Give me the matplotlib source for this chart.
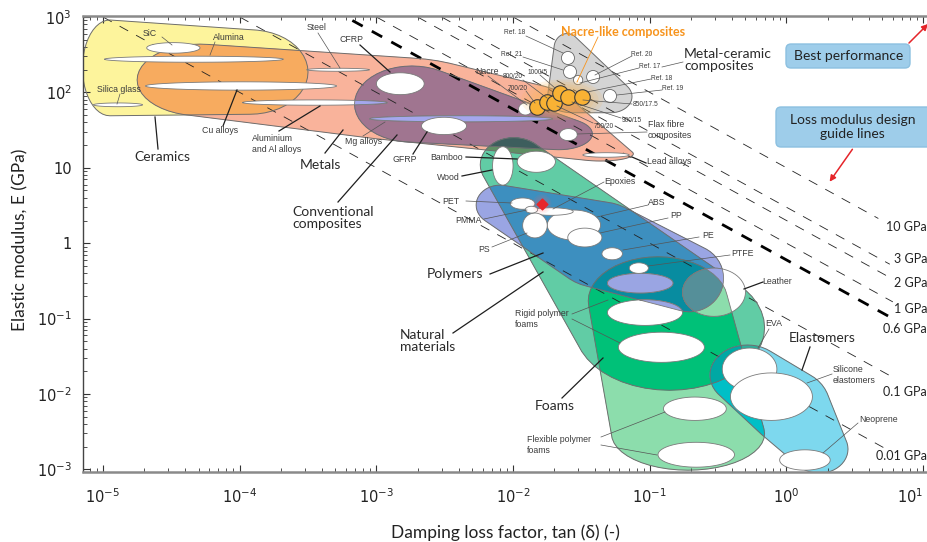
import numpy as np
import matplotlib.pyplot as plt
from matplotlib.patches import Polygon, FancyBboxPatch, FancyArrowPatch
from matplotlib.lines import Line2D
from matplotlib.transforms import IdentityTransform

plt.rcParams['mathtext.fontset'] = 'custom'
plt.rcParams['mathtext.rm'] = 'Lato'
plt.rcParams['lines.scale_dashes'] = False

# property ranges, log10 of (tan d low, tan d high, E low, E high), E in GPa
ceramics_env = [(-5.15, -4.75, 1.69, 2.96), (-4.35, -3.50, 1.71, 2.83)]
metals_env = [(-4.75, -3.83, 1.69, 2.64), (-3.56, -2.10, 1.37, 2.46),
              (-2.54, -1.51, 1.24, 2.14), (-1.60, -1.12, 1.09, 1.28)]
composites_env = [(-3.16, -2.32, 1.34, 2.35), (-1.91, -1.42, 1.24, 1.66)]
metal_ceramic_env = [(-1.70, -1.51, 2.40, 2.78), (-1.44, -1.13, 1.73, 2.16),
                     (-1.75, -1.38, 1.73, 2.10)]
natural_env = [(-2.24, -1.75, 0.68, 1.40), (-1.55, -0.16, -1.95, -0.29)]
foams_env = [(-1.45, -0.43, -1.35, -0.18), (-1.28, -0.16, -3.01, -2.04)]
polymers_env = [(-2.27, -1.92, 0.24, 0.77), (-1.73, -1.00, -0.59, 0.55),
                (-0.96, -0.46, -0.91, -0.02)]
elastomers_env = [(-0.56, -0.01, -2.15, -1.35), (-0.27, 0.32, -2.68, -1.68),
                  (0.03, 0.45, -3.05, -2.41)]

ceramics = {'SiC': (-4.68, -4.29, 2.52, 2.66), 'Alumina': (-4.99, -3.68, 2.40, 2.48),
            'Silica glass': (-5.07, -4.71, 1.81, 1.86)}
metals = {'Cu alloys': (-4.69, -3.29, 2.03, 2.14), 'Steel': (-3.51, -3.05, 2.28, 2.32),
          'Aluminium': (-3.98, -2.92, 1.83, 1.90), 'Mg alloys': (-3.05, -1.71, 1.61, 1.69),
          'Lead alloys': (-1.49, -1.15, 1.14, 1.20)}
composites = {'CFRP': (-3.00, -2.65, 1.97, 2.26), 'GFRP': (-2.67, -2.34, 1.44, 1.67),
              'Flax fibre': (-1.66, -1.53, 1.36, 1.52), 'Nacre': (-1.96, -1.86, 1.70, 1.86)}
natural = {'Bamboo': (-1.97, -1.69, 0.94, 1.22), 'Wood': (-2.15, -2.00, 0.77, 1.28),
           'Leather': (-0.76, -0.30, -0.97, -0.33)}
foams = {'Rigid 1': (-1.31, -0.83, -0.66, -0.40), 'Rigid 2': (-1.31, -0.76, -1.09, -0.75),
         'Rigid 3': (-1.23, -0.60, -1.58, -1.18), 'Flexible 1': (-0.90, -0.44, -2.35, -2.04),
         'Flexible 2': (-0.94, -0.38, -2.97, -2.64)}
polymers = {'ABS': (-1.75, -1.36, 0.04, 0.44), 'PET': (-2.02, -1.84, 0.45, 0.60),
            'Epoxies': (-1.88, -1.56, 0.37, 0.47), 'PS': (-1.93, -1.75, 0.07, 0.40),
            'PMMA': (-1.91, -1.82, 0.40, 0.49), 'PP': (-1.60, -1.35, -0.05, 0.20),
            'PE': (-1.35, -1.20, -0.22, -0.06), 'PTFE': (-1.15, -1.01, -0.40, -0.26)}
elastomers = {'EVA': (-0.47, -0.07, -1.95, -1.39), 'Silicone': (-0.41, 0.19, -2.35, -1.72),
              'Neoprene': (-0.05, 0.32, -3.01, -2.74)}

# single points (tan d, E in GPa)
ref_tan = [0.0252, 0.0261, 0.0385, 0.0299, 0.0512]
ref_E = [286, 187, 160, 146, 89.6]
nacre_tan = [0.0150, 0.0177, 0.0199, 0.0220, 0.0252, 0.0319]
nacre_E = [64, 74.6, 72.3, 98, 87, 87]
this_tan, this_E = 0.01625, 3.31

# loss modulus guide lines, E'' = E tan d (GPa)
guide_GPa = [10, 3, 2, 1, 0.6, 0.1, 0.01]
guide_end = [4.7, 5.7, 5.9, 6.0, 5.7, 6.3, 5.3]
guide_label_E = [1.64, 0.616, 0.296, 0.134, 0.0728, 0.0106, 0.00151]

colors = {'ceramics': (253, 244, 156), 'metals': (249, 179, 155), 'composites': (164, 167, 237),
          'metal_ceramic': (212, 212, 212), 'natural': (97, 204, 165), 'foams': (140, 221, 172),
          'polymers': (154, 165, 227), 'elastomers': (125, 216, 238)}
overlap = {frozenset(['natural', 'foams']): (0, 193, 120),
           frozenset(['natural', 'polymers']): (61, 143, 191),
           frozenset(['natural', 'polymers', 'foams']): (8, 140, 160),
           frozenset(['elastomers', 'foams']): (0, 191, 198),
           frozenset(['elastomers', 'natural', 'foams']): (0, 168, 164)}


def ellipse(r, n=60):
    x0, x1, y0, y1 = r
    t = np.linspace(0, 2 * np.pi, n, endpoint=False)
    return np.column_stack([(x0 + x1) / 2 + (x1 - x0) / 2 * np.cos(t),
                            (y0 + y1) / 2 + (y1 - y0) / 2 * np.sin(t)])


def hull(pts):
    pts = sorted(map(tuple, pts))

    def cross(o, a, b):
        return (a[0] - o[0]) * (b[1] - o[1]) - (a[1] - o[1]) * (b[0] - o[0])
    lower, upper = [], []
    for p in pts:
        while len(lower) >= 2 and cross(lower[-2], lower[-1], p) <= 0:
            lower.pop()
        lower.append(p)
    for p in reversed(pts):
        while len(upper) >= 2 and cross(upper[-2], upper[-1], p) <= 0:
            upper.pop()
        upper.append(p)
    return np.array(lower[:-1] + upper[:-1])


def clip(subj, clipper):
    # convex polygon intersection (Sutherland-Hodgman), clipper is CCW
    out = [tuple(p) for p in subj]
    m = len(clipper)
    for i in range(m):
        if not out:
            break
        a, b = clipper[i], clipper[(i + 1) % m]
        ex, ey = b[0] - a[0], b[1] - a[1]
        inp, out = out, []
        s = inp[-1]
        s_in = ex * (s[1] - a[1]) - ey * (s[0] - a[0]) >= 0
        for e in inp:
            e_in = ex * (e[1] - a[1]) - ey * (e[0] - a[0]) >= 0
            if e_in != s_in:
                dx, dy = e[0] - s[0], e[1] - s[1]
                den = dx * ey - dy * ex
                t = ((a[0] - s[0]) * ey - (a[1] - s[1]) * ex) / den
                out.append((s[0] + t * dx, s[1] + t * dy))
            if e_in:
                out.append(e)
            s, s_in = e, e_in
    return np.array(out)


def bbox(p):
    return p[:, 0].min(), p[:, 0].max(), p[:, 1].min(), p[:, 1].max()


regions = []   # [polygon in log units, rgb, family tags, is_bubble]
outlines = []


def add_family(name, env):
    poly = hull(np.vstack([ellipse(r, 48) for r in env]))
    outlines.append(poly)
    rgb = colors[name]
    new = [[poly, rgb, {name}, False]]
    bx = bbox(poly)
    for p, c, tags, bub in regions:
        b = bbox(p)
        if b[1] < bx[0] or b[0] > bx[1] or b[3] < bx[2] or b[2] > bx[3]:
            continue
        q = clip(p, poly)
        if len(q) < 3:
            continue
        t = tags | {name}
        col = overlap.get(frozenset(t), tuple(u * v / 255 for u, v in zip(c, rgb)))
        new.append([q, col, t, bub])
    regions.extend(new)


def add_bubbles(bubbles):
    for r in bubbles.values():
        regions.append([ellipse(r), (255, 255, 255), set(), True])


add_family('ceramics', ceramics_env)
add_family('metals', metals_env)
add_bubbles(ceramics)
add_bubbles(metals)
add_family('composites', composites_env)
add_bubbles(composites)
add_family('metal_ceramic', metal_ceramic_env)
add_family('natural', natural_env)
add_bubbles(natural)
add_family('foams', foams_env)
add_bubbles(foams)
add_family('polymers', polymers_env)
add_bubbles(polymers)
add_family('elastomers', elastomers_env)
add_bubbles(elastomers)

W, H = 927, 542
fig = plt.figure(figsize=(W / 100, H / 100), dpi=100)
ax = fig.add_axes([83 / W, 70 / H, 844 / W, 456 / H])
ax.set_xscale('log')
ax.set_yscale('log')
ax.set_xlim(10 ** -5.146, 10 ** 1.028)
ax.set_ylim(10 ** -3.034, 10 ** 3.013)

for i, (p, c, tags, bub) in enumerate(regions):
    col = tuple(v / 255 for v in c)
    if bub:
        ax.add_patch(Polygon(10 ** p, closed=True, fc=col, ec='#7a7a7a', lw=0.6,
                             zorder=3 + i * 1e-5))
    else:
        ax.add_patch(Polygon(10 ** p, closed=True, fc=col, ec=col, lw=0.3,
                             zorder=1 + i * 1e-5))
for p in outlines:
    ax.add_patch(Polygon(10 ** p, closed=True, fill=False, ec='#6e6e6e', lw=0.7, zorder=2))

# design guide lines
for c, xe in zip(guide_GPa, guide_end):
    x = np.logspace(-6, np.log10(xe), 80)
    if c == 0.6:
        ax.plot(x, c / x, color='black', lw=2.0, dashes=(8.5, 7.5), zorder=1.6)
    else:
        ax.plot(x, c / x, color='#222222', lw=0.6, dashes=(7, 6.5), zorder=1.6)
for c, ye in zip(guide_GPa, guide_label_E):
    ax.text(1.0, ye, '%g GPa' % c, transform=ax.get_yaxis_transform(), ha='right', va='center',
            fontsize=9, family='Lato', color='#222222', zorder=8)

# metal-ceramic references, nacre-like composites and this work
ax.scatter(ref_tan, ref_E, s=[88, 88, 88, 45, 88], fc='white', ec='#666666', lw=0.6, zorder=4)
gx, gy = np.mean(np.log10(nacre_tan)) + 0.03, np.mean(np.log10(nacre_E))
for k in range(8):
    s = 1 - 0.11 * k
    e = ellipse((gx - 0.30 * s, gx + 0.30 * s, gy - 0.27 * s, gy + 0.27 * s))
    ax.add_patch(Polygon(10 ** e, closed=True, fc='#FBB347', ec='none', alpha=0.13, zorder=4.5))
ax.scatter(nacre_tan, nacre_E, s=125, fc='#F9B234', ec='#3a3a3a', lw=0.8, zorder=5)
lx, ly = np.log10(this_tan), np.log10(this_E)
for k in range(5):
    s = 1 - 0.18 * k
    e = ellipse((lx - 0.07 * s, lx + 0.07 * s, ly - 0.13 * s, ly + 0.13 * s))
    ax.add_patch(Polygon(10 ** e, closed=True, fc='#FF6060', ec='none', alpha=0.08, zorder=5.5))
ax.scatter([this_tan], [this_E], marker='D', s=30, c='#E8262B', zorder=6)

# axes styling
for s in ['top', 'bottom']:
    ax.spines[s].set_color('#8a8a8a')
    ax.spines[s].set_linewidth(1.8)
ax.spines['left'].set_color('#444444')
ax.spines['left'].set_linewidth(1.0)
ax.spines['right'].set_visible(False)
ax.tick_params(which='both', direction='in', top=True, right=False, color='#333333')
ax.tick_params(which='major', length=5, width=0.8)
ax.tick_params(which='minor', length=3, width=0.6)
ax.tick_params(axis='x', pad=11, labelsize=10.5, labelcolor='#222222')
ax.tick_params(axis='y', pad=8, labelsize=10.5, labelcolor='#222222')
xt = [10.0 ** k for k in range(-5, 2)]
ax.set_xticks(xt)
ax.set_xticklabels([r'$\mathregular{10^{%d}}$' % k for k in range(-5, 2)])
ax.get_xticklabels()[-1].set_ha('right')
yt = [10.0 ** k for k in range(-3, 4)]
ax.set_yticks(yt)
ax.set_yticklabels([r'$\mathregular{10^{%d}}$' % k if k not in (0, 1) else '%d' % 10 ** k
                    for k in range(-3, 4)])
ax.set_xlabel('Damping loss factor, tan (δ) (-)', fontsize=12.5, family=['Lato', 'DejaVu Sans'],
              color='#222222')
ax.set_ylabel('Elastic modulus, E (GPa)', fontsize=12.5, family=['Lato', 'DejaVu Sans'],
              color='#222222')
ax.xaxis.set_label_coords(0.5, -0.134)
ax.xaxis.label.set_va('center')
ax.yaxis.set_label_coords(-0.0746, 0.51)
ax.yaxis.label.set_va('center')


def fx(x, y):
    return x / W, 1 - y / H


# labels: text, position (px), align, style, leader lines (px), leader colour
DARK, GREY = '#1e1e1e', '#555555'
labels = [
    ('SiC', (150, 34), 'center', 's', [((162, 37), (172, 45))], GREY),
    ('Alumina', (229, 37), 'center', 's', [((215, 42), (210, 55))], GREY),
    ('Silica glass', (119, 89), 'center', 's', [((120, 94), (117, 104))], GREY),
    ('Cu alloys', (220, 131), 'center', 's', [((223, 126), (237, 90))], DARK),
    ('Steel', (317, 28), 'center', 's', [((318, 33), (340, 68))], GREY),
    ('CFRP', (351, 39), 'center', 's', [((360, 45), (390, 72))], DARK),
    ('Aluminium\nand Al alloys', (252, 144), 'left', 's', [((279, 131), (320, 106))], DARK),
    ('Mg alloys', (364, 142), 'center', 's', [((363, 136), (385, 122))], GREY),
    ('GFRP', (405, 160), 'center', 's', [((413, 154), (427, 132))], DARK),
    ('Nacre', (487, 72), 'center', 's', [((488, 76), (527, 105))], GREY),
    ('Ref. 18', (515, 33), 'center', 'r', [((526, 36), (563, 53))], GREY),
    ('Ref. 21', (512, 55), 'center', 'r', [((523, 57), (563, 70))], GREY),
    ('1000/5', (538, 72), 'center', 'r', [((540, 75), (555, 88))], GREY),
    ('800/20', (513, 77), 'center', 'r', [((523, 80), (547, 98))], GREY),
    ('700/20', (518, 88), 'center', 'r', [((526, 91), (535, 103))], GREY),
    ('Ref. 20', (642, 54), 'center', 'r', [((632, 56), (595, 75))], GREY),
    ('Ref. 17', (650, 66), 'center', 'r', [((639, 68), (580, 83))], GREY),
    ('Ref. 18', (662, 78), 'center', 'r', [((651, 79), (587, 92))], GREY),
    ('Ref. 19', (673, 89), 'center', 'r', [((662, 90), (617, 95))], GREY),
    ('850/17.5', (646, 104), 'center', 'r', [((632, 104), (583, 100))], GREY),
    ('900/15', (632, 120), 'center', 'r', [((621, 118), (572, 102))], GREY),
    ('750/20', (604, 126), 'center', 'r', [((593, 123), (557, 106))], GREY),
    ('Flax fibre\ncomposites', (648, 130), 'left', 's', [((647, 132), (577, 134))], GREY),
    ('Lead alloys', (669, 162), 'center', 's', [((646, 163), (632, 157))], DARK),
    ('Bamboo', (447, 158), 'center', 's', [((466, 157), (517, 159))], DARK),
    ('Wood', (448, 177), 'center', 's', [((462, 176), (492, 170))], DARK),
    ('Epoxies', (620, 181), 'center', 's', [((604, 182), (553, 209))], GREY),
    ('PET', (451, 201), 'center', 's', [((466, 201), (512, 203))], GREY),
    ('PMMA', (468, 221), 'center', 's', [((484, 219), (527, 210))], GREY),
    ('PS', (484, 249), 'center', 's', [((492, 247), (527, 233))], GREY),
    ('ABS', (657, 203), 'center', 's', [((648, 205), (597, 217))], GREY),
    ('PP', (676, 216), 'center', 's', [((668, 218), (600, 233))], GREY),
    ('PE', (708, 235), 'center', 's', [((699, 237), (623, 250))], GREY),
    ('PTFE', (742, 253), 'center', 's', [((730, 255), (648, 266))], GREY),
    ('Leather', (777, 281), 'center', 's', [((763, 282), (744, 289))], DARK),
    ('Rigid polymer\nfoams', (515, 319), 'left', 's',
     [((572, 314), (608, 300)), ((572, 319), (620, 343))], GREY),
    ('EVA', (774, 324), 'center', 's', [((769, 329), (758, 348))], GREY),
    ('Silicone\nelastomers', (833, 375), 'left', 's', [((832, 374), (807, 383))], GREY),
    ('Neoprene', (879, 419), 'center', 's', [((858, 423), (823, 453))], GREY),
    ('Flexible polymer\nfoams', (527, 445), 'left', 's',
     [((601, 437), (665, 412)), ((601, 445), (657, 455))], GREY),
    ('Ceramics', (162, 157), 'center', 'm', [((158, 149), (155, 117))], DARK),
    ('Metals', (320, 165), 'center', 'm', [((325, 153), (343, 130))], DARK),
    ('Conventional\ncomposites', (292, 218), 'left', 'm', [((338, 202), (397, 135))], DARK),
    ('Polymers', (455, 274), 'center', 'm', [((490, 274), (543, 253))], DARK),
    ('Natural\nmaterials', (400, 341), 'left', 'm', [((453, 333), (543, 272))], DARK),
    ('Foams', (555, 406), 'center', 'm', [((562, 398), (603, 358))], DARK),
    ('Elastomers', (822, 338), 'center', 'm', [((810, 347), (802, 370))], DARK),
    ('Metal-ceramic\ncomposites', (684, 60), 'left', 'm', [((683, 62), (662, 67))], GREY),
]
styles = {'s': dict(fontsize=6.3, family='Liberation Sans', color='#3c3c3c', linespacing=1.15),
          'r': dict(fontsize=4.8, family='Liberation Sans', color='#3c3c3c'),
          'm': dict(fontsize=10, family='Lato', color='#2a2a2a', linespacing=1.0)}
for text, (tx, ty), ha, st, segs, lc in labels:
    fig.text(*fx(tx, ty), text, ha=ha, va='center', zorder=8, **styles[st])
    for (x0, y0), (x1, y1) in segs:
        fig.add_artist(Line2D([x0 / W, x1 / W], [1 - y0 / H, 1 - y1 / H], transform=fig.transFigure,
                              color=lc, lw=0.9 if lc == DARK else 0.5, zorder=7))

fig.text(*fx(623, 32), 'Nacre-like composites', ha='center', va='center', fontsize=9,
         family='Lato', weight='bold', color='#F7941D', zorder=8)
fig.add_artist(Line2D([598 / W, 577 / W], [1 - 37 / H, 1 - 82 / H], transform=fig.transFigure,
                      color='#F7941D', lw=0.6, zorder=7))

# call-out boxes
for (x0, y0, x1, y1), txt in [((786, 44, 910, 68), 'Best performance'),
                              ((776, 107, 935, 147), 'Loss modulus design\nguide lines')]:
    fig.add_artist(FancyBboxPatch((x0, H - y1), x1 - x0, y1 - y0,
                                  boxstyle='round,pad=0,rounding_size=5', transform=IdentityTransform(),
                                  fc='#9ECDEA', ec='#8CC0E0', lw=1.0, zorder=6))
    fig.text(*fx((x0 + min(x1, 927)) / 2 + 1, (y0 + y1) / 2), txt, ha='center', va='center',
             fontsize=10, family='Lato', color='#222222', linespacing=1.15, zorder=8)

for (x0, y0), (x1, y1) in [((907, 45), (930, 22)), ((854, 147), (828, 184))]:
    fig.add_artist(FancyArrowPatch(
        (x0, H - y0), (x1, H - y1), transform=IdentityTransform(), arrowstyle='-|>',
        mutation_scale=9, color='#E5252A', lw=1.1, zorder=8))

fig.savefig('out.png', dpi=100)
